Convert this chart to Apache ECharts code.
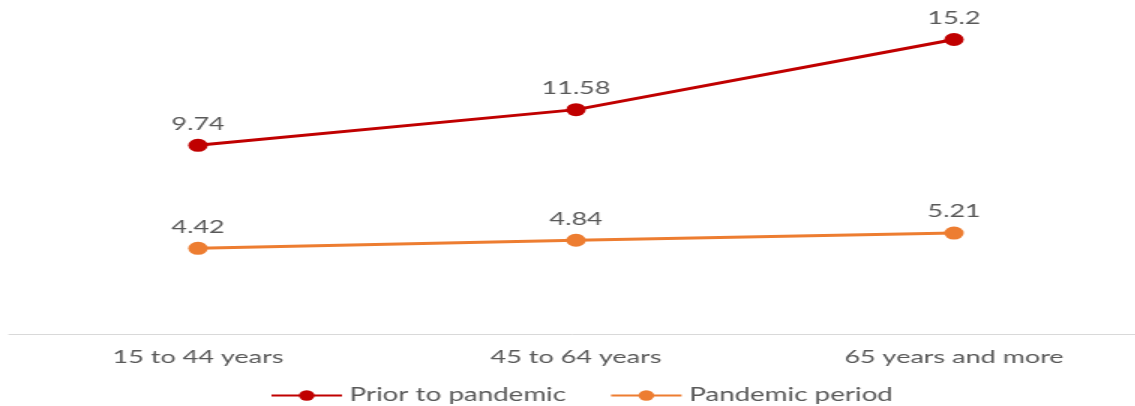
<!DOCTYPE html>
<html>
<head>
<meta charset="utf-8">
<script src="https://cdn.jsdelivr.net/npm/echarts@6/dist/echarts.min.js"></script>
<style>
  html, body { margin: 0; padding: 0; background: #ffffff; overflow: hidden; width: 1135px; height: 406px; }
  /* Chart is laid out narrow and widened 1.5x horizontally */
  #chart { width: 757px; height: 406px; transform: scaleX(1.5); transform-origin: 0 0; }
</style>
</head>
<body>
<div id="chart"></div>
<script>
// Age groups along the x-axis
const categories = ['15 to 44 years', '45 to 64 years', '65 years and more'];
// Values per age group
const priorToPandemic = [9.74, 11.58, 15.2];
const pandemicPeriod = [4.42, 4.84, 5.21];

const textColor = '#595959';
const fontFamily = 'Lato, "Open Sans", sans-serif';

const chart = echarts.init(document.getElementById('chart'));

function lineSeries(name, data, color) {
  return {
    name: name,
    type: 'line',
    data: data,
    symbol: 'circle',
    symbolSize: 13,
    lineStyle: { color: color, width: 3 },
    itemStyle: { color: color },
    label: {
      show: true,
      position: 'top',
      distance: 6,
      color: textColor,
      fontSize: 18,
      fontFamily: fontFamily
    },
    emphasis: { disabled: true }
  };
}

chart.setOption({
  animation: false,
  grid: { left: 6, width: 756, top: 24, bottom: 72, outerBoundsMode: 'none' },
  xAxis: {
    type: 'category',
    data: categories,
    boundaryGap: true,
    axisLine: { lineStyle: { color: '#d9d9d9', width: 1 } },
    axisTick: { show: false },
    axisLabel: {
      color: textColor,
      fontSize: 18,
      fontFamily: fontFamily,
      margin: 14
    }
  },
  yAxis: {
    type: 'value',
    min: 0,
    max: 16,
    show: false,
    splitLine: { show: false }
  },
  legend: {
    top: 381,
    left: 175,
    itemWidth: 47,
    itemHeight: 13,
    itemGap: 29,
    textStyle: { color: textColor, fontSize: 18.5, fontFamily: fontFamily },
    data: ['Prior to pandemic', 'Pandemic period']
  },
  series: [
    lineSeries('Prior to pandemic', priorToPandemic, '#c00000'),
    lineSeries('Pandemic period', pandemicPeriod, '#ed7d31')
  ]
});
</script>
</body>
</html>
